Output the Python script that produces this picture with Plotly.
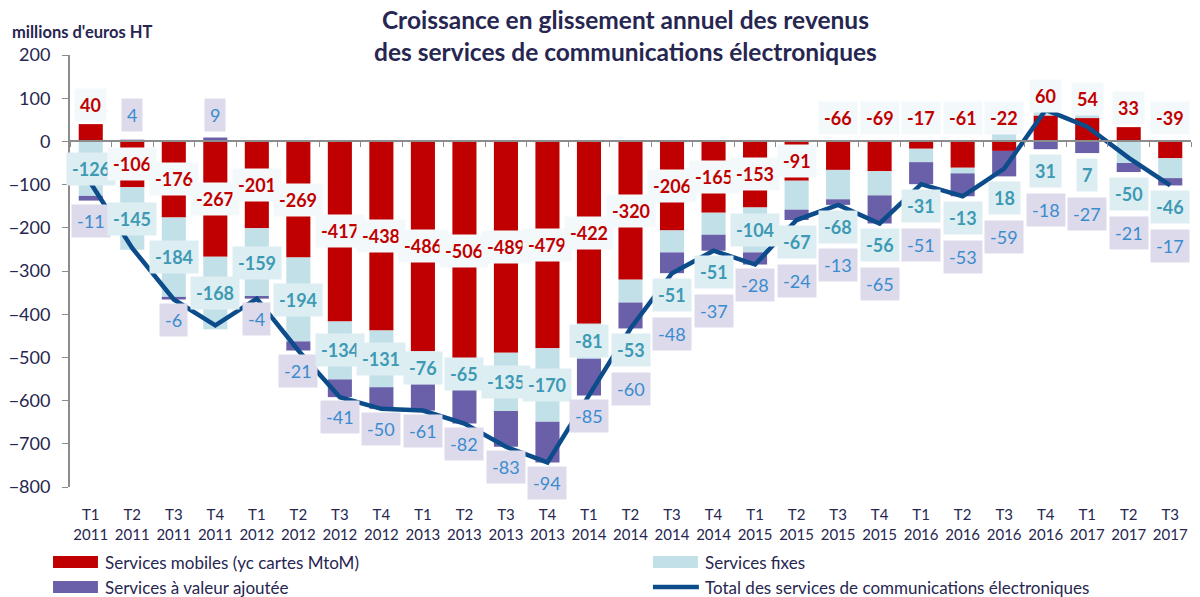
import plotly.graph_objects as go

# ---------------- data ----------------
trimestres = ["T1", "T2", "T3", "T4"] * 6 + ["T1", "T2", "T3"]
annees = (["2011"] * 4 + ["2012"] * 4 + ["2013"] * 4 + ["2014"] * 4 +
          ["2015"] * 4 + ["2016"] * 4 + ["2017"] * 3)

mobiles = [40, -106, -176, -267, -201, -269, -417, -438, -486, -506, -489, -479,
           -422, -320, -206, -165, -153, -91, -66, -69, -17, -61, -22, 60, 54, 33, -39]
fixes = [-126, -145, -184, -168, -159, -194, -134, -131, -76, -65, -135, -170,
         -81, -53, -51, -51, -104, -67, -68, -56, -31, -13, 18, 31, 7, -50, -46]
valeur_ajoutee = [-11, 4, -6, 9, -4, -21, -41, -50, -61, -82, -83, -94,
                  -85, -60, -48, -37, -28, -24, -13, -65, -51, -53, -59, -18, -27, -21, -17]
total = [-97, -247, -366, -426, -364, -484, -592, -619, -623, -653, -707, -743,
         -588, -433, -305, -253, -285, -182, -147, -190, -99, -127, -63, 73, 34, -38, -102]

noms = ["Services mobiles (yc cartes MtoM)", "Services fixes",
        "Services à valeur ajoutée",
        "Total des services de communications électroniques"]
titre = "Croissance en glissement annuel des revenus<br>des services de communications électroniques"
unite = "millions d'euros HT"

# ---------------- styles ----------------
FONT = "Lato"
C_MOB, C_FIX, C_VA, C_TOT = "#C00000", "#C2E0E8", "#6A60A9", "#0C4C8A"
TXT = "#262650"
x = list(range(len(trimestres)))
ticktext = [f"{t}<br>{a}" for t, a in zip(trimestres, annees)]

fig = go.Figure()
fig.add_trace(go.Bar(x=x, y=mobiles, name=noms[0], marker_color=C_MOB, marker_line_width=0))
fig.add_trace(go.Bar(x=x, y=fixes, name=noms[1], marker_color=C_FIX, marker_line_width=0))
fig.add_trace(go.Bar(x=x, y=valeur_ajoutee, name=noms[2], marker_color=C_VA, marker_line_width=0))
fig.add_trace(go.Scatter(x=x, y=total, name=noms[3], mode="lines",
                         line=dict(color=C_TOT, width=4.5)))
# helper trace for the zero-line axis
fig.add_trace(go.Scatter(x=[x[0]], y=[0], xaxis="x2", mode="markers",
                         marker=dict(opacity=0), showlegend=False, hoverinfo="skip"))

annotations = []
for i, (m, f, v) in enumerate(zip(mobiles, fixes, valeur_ajoutee)):
    neg_bottom = sum(val for val in (m, f, v) if val < 0)
    # mobile label
    if m > 0:
        ym = m + 45
    elif m > -80:
        ym = 55
    else:
        ym = m / 2
    annotations.append(dict(x=i, y=ym, text=f"<b>{m}</b>", showarrow=False,
                            font=dict(family=FONT, size=18, color=C_MOB),
                            bgcolor="#F3F8FB", borderpad=5))
    # fixes label
    centered = f < 0 and (f <= -75 or m <= -400)
    if centered:
        start = min(m, 0)
        yf = start + f / 2
    else:
        yf = neg_bottom - 50
    annotations.append(dict(x=i, y=yf, text=f"<b>{f}</b>", showarrow=False,
                            font=dict(family=FONT, size=18, color="#3E9AB4"),
                            bgcolor="#DDEEF3", borderpad=5))
    # VA label
    if v > 0:
        yv = 60
    elif centered:
        yv = neg_bottom - 47
    else:
        yv = neg_bottom - 140
    annotations.append(dict(x=i, y=yv, text=f"{v}", showarrow=False,
                            font=dict(family=FONT, size=18, color="#3A8CCF"),
                            bgcolor="#DDDAEB", borderpad=5))

# plot-area geometry for paper coordinates
L, R, T, B, W, H = 68, 9, 55, 110, 1200, 597
pw, ph = W - L - R, H - T - B
def px(xp):
    return (xp - L) / pw
def py(yp):
    return (H - B - yp) / ph

# title
annotations.append(dict(xref="paper", yref="paper", x=px(624), y=py(3), xanchor="center",
                        yanchor="top", showarrow=False, text=f"<b>{titre}</b>",
                        font=dict(family=FONT, size=24.5, color=TXT)))
# y-axis title
annotations.append(dict(xref="paper", yref="paper", x=px(8), y=py(32), xanchor="left",
                        yanchor="middle", showarrow=False, text=f"<b>{unite}</b>",
                        font=dict(family=FONT, size=16.5, color=TXT)))

# custom legend
shapes = []
leg = [(noms[0], 51, 562, C_MOB, "rect"), (noms[1], 652, 562, C_FIX, "rect"),
       (noms[2], 51, 587, C_VA, "rect"), (noms[3], 652, 587, C_TOT, "line")]
for name, x0, yc, col, kind in leg:
    if kind == "rect":
        shapes.append(dict(type="rect", xref="paper", yref="paper",
                           x0=px(x0), x1=px(x0 + 45), y0=py(yc - 6), y1=py(yc + 6),
                           fillcolor=col, line=dict(width=0)))
    else:
        shapes.append(dict(type="line", xref="paper", yref="paper",
                           x0=px(x0), x1=px(x0 + 46), y0=py(yc), y1=py(yc),
                           line=dict(color=col, width=4.5)))
    annotations.append(dict(xref="paper", yref="paper", x=px(x0 + 50), y=py(yc),
                            xanchor="left", yanchor="middle", showarrow=False,
                            text=name, font=dict(family=FONT, size=17, color=TXT)))

fig.update_layout(
    width=W, height=H,
    margin=dict(l=L, r=R, t=T, b=B),
    barmode="relative", bargap=0.42,
    plot_bgcolor="white", paper_bgcolor="white",
    showlegend=False,
    xaxis=dict(range=[-0.5, len(x) - 0.5], tickvals=x, ticktext=ticktext,
               showline=False, ticks="outside", ticklen=14, tickcolor="rgba(0,0,0,0)",
               showgrid=False, zeroline=False,
               tickfont=dict(family=FONT, size=15, color=TXT)),
    xaxis2=dict(overlaying="x", matches="x", anchor="free", position=0.8,
                showline=True, linecolor="#8C8C8C", linewidth=2,
                ticks="outside", ticklen=5, tickcolor="#8C8C8C",
                tickmode="array", tickvals=[i - 0.5 for i in x] + [len(x) - 0.5],
                showticklabels=False, showgrid=False, zeroline=False),
    yaxis=dict(range=[-800, 200], dtick=100, showgrid=False, zeroline=False,
               showline=True, linecolor="#8C8C8C", linewidth=2,
               ticks="outside", ticklen=6, tickcolor="#8C8C8C",
               ticklabelstandoff=8,
               tickfont=dict(family=FONT, size=18, color=TXT)),
    annotations=annotations, shapes=shapes,
    font=dict(family=FONT),
)

fig.write_html("out.html", config={"displayModeBar": False},
               post_script="document.body.style.margin='0';")
